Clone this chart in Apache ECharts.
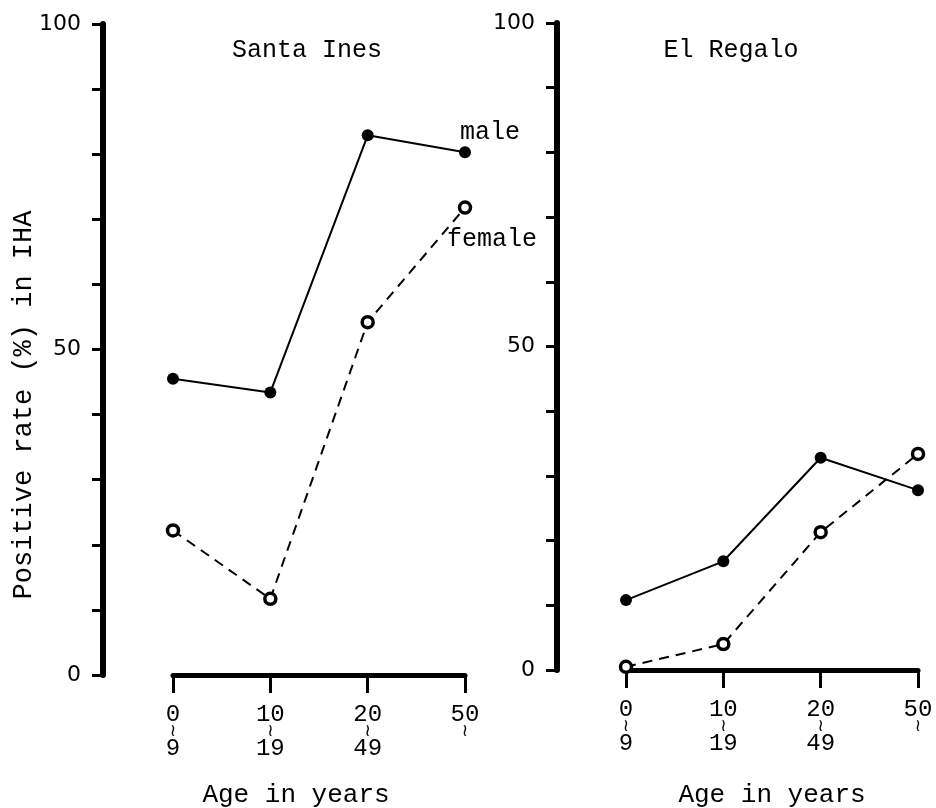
<!DOCTYPE html>
<html><head><meta charset="utf-8">
<script src="https://cdn.jsdelivr.net/npm/echarts@6/dist/echarts.min.js"></script>
<style>html,body{margin:0;padding:0;background:#fff}#c{width:936px;height:808px}</style>
</head><body><div id="c"></div>
<script>
const categories = ['0', '10', '20', '50'];
const categoryEnds = ['9', '19', '49', ''];
const santaInesMale = [45.5, 43.4, 82.9, 80.3];
const santaInesFemale = [22.2, 11.7, 54.2, 71.8];
const elRegaloMale = [10.8, 16.8, 32.8, 27.8];
const elRegaloFemale = [0.5, 4.0, 21.3, 33.4];
const yLabelled = [0, 50, 100];
const panelTitles = ['Santa Ines', 'El Regalo'];

const mono = "'Liberation Mono', 'DejaVu Sans Mono', monospace";
const chart = echarts.init(document.getElementById('c'), null, {renderer: 'canvas'});

function xAxisCfg(idx) {
  return {
    gridIndex: idx, type: 'category', data: categories, boundaryGap: false,
    axisLine: {lineStyle: {color: '#000', width: 5}},
    axisTick: {show: true, length: 18, lineStyle: {color: '#000', width: 3}},
    axisLabel: {
      margin: 30, color: '#000',
      formatter: function (v, i) { return '{a|' + v + '}\n{t|≀}\n{a|' + categoryEnds[i] + '}'; },
      rich: {
        a: {fontFamily: mono, fontSize: 24, lineHeight: 20, color: '#000'},
        t: {fontFamily: "'DejaVu Sans', sans-serif", fontSize: 17, lineHeight: 14, color: '#000'}
      }
    },
    splitLine: {show: false}
  };
}
function yAxisCfg(idx, off) {
  return {
    gridIndex: idx, type: 'value', min: 0, max: 100, interval: 10, offset: off,
    axisLine: {show: true, lineStyle: {color: '#000', width: 6}},
    axisTick: {show: true, length: 11, lineStyle: {color: '#000', width: 3}},
    axisLabel: {
      margin: 22, color: '#000', fontFamily: "'DejaVu Sans', sans-serif", fontSize: 22,
      formatter: function (v) { return yLabelled.indexOf(v) >= 0 ? String(v) : ''; }
    },
    splitLine: {show: false}
  };
}
function maleSeries(idx, data) {
  return {
    type: 'line', xAxisIndex: idx, yAxisIndex: idx, data: data,
    symbol: 'circle', symbolSize: 12,
    itemStyle: {color: '#000'},
    lineStyle: {color: '#000', width: 2}
  };
}
function femaleSeries(idx, data) {
  return {
    type: 'line', xAxisIndex: idx, yAxisIndex: idx, data: data,
    symbol: 'circle', symbolSize: 11,
    itemStyle: {color: '#fff', borderColor: '#000', borderWidth: 3.5},
    lineStyle: {color: '#000', width: 2, type: [10, 7]}
  };
}
function txt(x, y, s, size, extra) {
  return Object.assign({
    type: 'text', x: x, y: y, silent: true,
    style: {text: s, fontFamily: mono, fontSize: size, fill: '#000', align: 'center', verticalAlign: 'middle'}
  }, extra || {});
}

chart.setOption({
  animation: false,
  backgroundColor: '#fff',
  grid: [
    {left: 173, top: 24, width: 292, height: 651},
    {left: 626, top: 23, width: 292, height: 647}
  ],
  xAxis: [xAxisCfg(0), xAxisCfg(1)],
  yAxis: [yAxisCfg(0, 70), yAxisCfg(1, 69)],
  series: [
    maleSeries(0, santaInesMale), femaleSeries(0, santaInesFemale),
    maleSeries(1, elRegaloMale), femaleSeries(1, elRegaloFemale)
  ],
  graphic: [
    txt(307, 50, panelTitles[0], 25),
    txt(731, 50, panelTitles[1], 25),
    txt(296, 795, 'Age in years', 26),
    txt(772, 795, 'Age in years', 26),
    txt(490, 132, 'male', 25),
    txt(492, 239, 'female', 25),
    {type: 'text', x: 24, y: 405, rotation: Math.PI / 2, silent: true,
     style: {text: 'Positive rate (%) in IHA', fontFamily: mono, fontSize: 27, fill: '#000', align: 'center', verticalAlign: 'middle'}}
  ]
});
</script>
</body></html>
